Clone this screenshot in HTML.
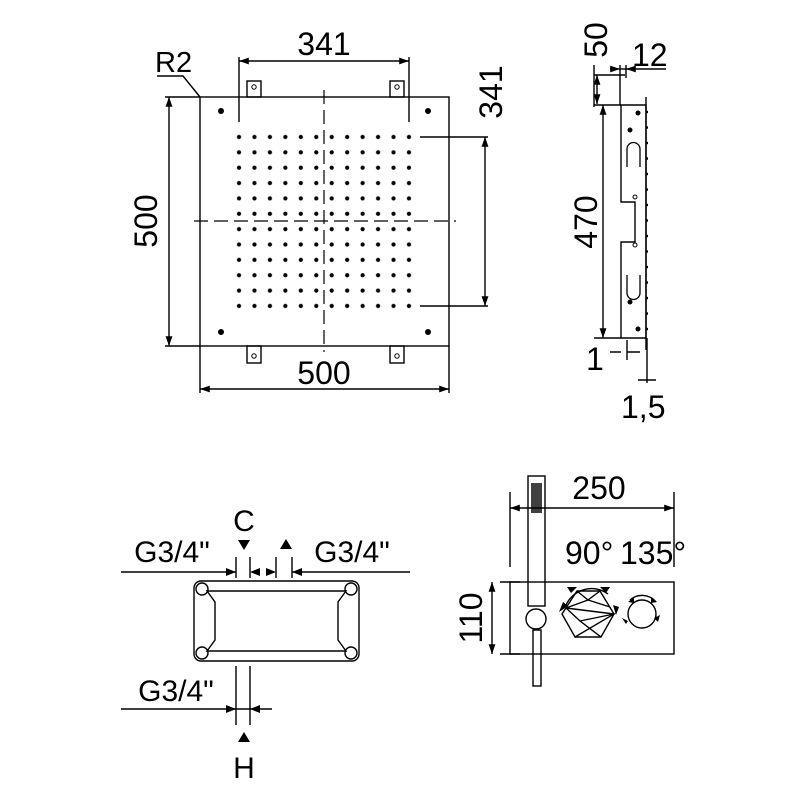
<!DOCTYPE html>
<html><head><meta charset="utf-8"><style>
html,body{margin:0;padding:0;background:#fff}
svg{display:block}
text{font-family:"Liberation Sans","DejaVu Sans",sans-serif;fill:#000}
</style></head><body>
<svg width="800" height="800" viewBox="0 0 800 800" xmlns="http://www.w3.org/2000/svg">
<defs>
<marker id="a" viewBox="0 0 10 10" refX="10" refY="5" markerWidth="7" markerHeight="7" orient="auto-start-reverse"><path d="M0,1.5 L10,5 L0,8.5z" fill="#000"/></marker>
<pattern id="dots" x="231.3" y="129.3" width="15.45" height="15.36" patternUnits="userSpaceOnUse"><circle cx="7.72" cy="7.68" r="2.1" fill="#000"/></pattern>
<pattern id="sd" x="644" y="105" width="4" height="15.5" patternUnits="userSpaceOnUse"><circle cx="3" cy="7" r="1.3" fill="#000"/></pattern>
</defs>
<g stroke="#000" stroke-width="1.4" fill="none">
<!-- top view -->
<rect x="200" y="97" width="249" height="249"/>
<rect x="247" y="81" width="14" height="16"/><rect x="390" y="81" width="14" height="16"/>
<rect x="247" y="346" width="14" height="17"/><rect x="390" y="346" width="14" height="17"/>
<circle cx="254" cy="87" r="2.2" stroke-width="1"/><circle cx="397" cy="87" r="2.2" stroke-width="1"/>
<circle cx="254" cy="356" r="2.2" stroke-width="1"/><circle cx="397" cy="356" r="2.2" stroke-width="1"/>
<path d="M324,90 V352 M194,221 H456" stroke-dasharray="14,6" stroke-width="1.2"/>
<path d="M239,57 V122 M409,57 V122"/>
<path d="M239,61 H409" marker-start="url(#a)" marker-end="url(#a)"/>
<path d="M165,97 H200 M165,346 H200"/>
<path d="M169,97 V346" marker-start="url(#a)" marker-end="url(#a)"/>
<path d="M200,346 V393 M449,346 V393"/>
<path d="M200,389 H449" marker-start="url(#a)" marker-end="url(#a)"/>
<path d="M420,137 H488 M420,306 H488"/>
<path d="M485,137 V306" marker-start="url(#a)" marker-end="url(#a)"/>
<path d="M157,76 H183 L200,97"/>
<!-- side view -->
<path d="M621,105 H646 V338 H621 V242 H635 V202 H621 Z"/>
<path d="M646,97 V350"/>
<path d="M627,167 v-18 a6.5,6.5 0 0 1 13,0 v18 M627,275 v18 a6.5,6.5 0 0 0 13,0 v-18" stroke-width="1.3"/>
<circle cx="635" cy="197" r="2" stroke-width="1"/><circle cx="635" cy="245" r="2" stroke-width="1"/>
<path d="M594,105 H621 M594,338 H621"/>
<path d="M603,105 V338" marker-start="url(#a)" marker-end="url(#a)"/>
<path d="M594,75 H625 M594,107 V65"/>
<path d="M597,75 V104" marker-start="url(#a)" marker-end="url(#a)"/>
<path d="M620,65 V105 M626,65 V78"/>
<path d="M610,69 H620" marker-end="url(#a)"/>
<path d="M666,69 H626" marker-end="url(#a)"/>
<path d="M620,69 H626"/>
<path d="M610,352 H621 M627,352 H640" />
<path d="M627,340 V360"/>
<path d="M647,338 V383 M638,380 H656"/>
<!-- bottom left -->
<path d="M121,572 H236 M292,572 H410"/>
<path d="M236,557 V578 M250,557 V578 M276,557 V578 M292,557 V578"/>
<rect x="194" y="581" width="165" height="80" rx="7"/>
<path d="M207,591 H346 L338,602 V640 L346,651 H207 L215,640 V602 Z"/>
<circle cx="202" cy="589" r="6"/><circle cx="351" cy="589" r="6"/><circle cx="202" cy="653" r="6"/><circle cx="351" cy="653" r="6"/>
<path d="M121,709 H272 M236,666 V725 M250,666 V725"/>
<!-- bottom right -->
<rect x="510" y="582" width="164" height="72"/>
<rect x="528" y="476" width="17" height="130"/>
<rect x="533" y="630" width="8" height="56"/>
<circle cx="536" cy="619" r="10" fill="#fff"/>
<path d="M510,492 V567 M674,492 V567"/>
<path d="M510,508 H674" marker-start="url(#a)" marker-end="url(#a)"/>
<path d="M500,582 H520 M500,654 H520"/>
<path d="M492,582 V654" marker-start="url(#a)" marker-end="url(#a)"/>
<path d="M562,614 L577,591 H600 L614,614 L601,637 H575 Z"/>
<path d="M577,591 L588,600 L600,591 M588,600 L566,608 L614,614 L575,637 M566,608 L580,621 L601,637 M580,621 L614,614 M588,600 L610,607"/>
<path d="M566,605 A28,28 0 0 1 608,594" />
<circle cx="642" cy="614" r="14"/>
<path d="M630,600 A18,18 0 0 1 656,602"/>
</g>
<rect x="231.3" y="129.3" width="185.4" height="184.3" fill="url(#dots)"/>
<rect x="644" y="105" width="5" height="233" fill="url(#sd)"/>
<g fill="#000">
<circle cx="221" cy="111" r="3"/><circle cx="428" cy="111" r="3"/><circle cx="221" cy="332" r="3"/><circle cx="428" cy="332" r="3"/>
<circle cx="638" cy="113" r="2.5"/><circle cx="630" cy="130" r="2.5"/><circle cx="630" cy="302" r="2.5"/><circle cx="638" cy="329" r="2.5"/>
<rect x="531" y="483" width="11" height="30" opacity="0.75"/>
<path d="M236,572 l-10,-4 v8z M250,572 l10,-4 v8z M276,572 l-10,-4 v8z M292,572 l10,-4 v8z"/>
<path d="M236,709 l-10,-4 v8z M250,709 l10,-4 v8z"/>
<path d="M238,540 h12 l-6,10z M280,549 h12 l-6,-10z M238,742 h12 l-6,-10z"/>
<path d="M577,587 h-10 l4,6z M600,587 h10 l-4,6z M559,612 l4,-10 l5,4z M613,605 l3,10 l3,-8z M628,602 l6,-5 v6z M657,602 l-6,-5 v6z M628,621 l-6,-3 l4,6z M654,618 l6,-3 l-2,7z"/>
</g>
<g font-size="32">
<text x="324" y="55" text-anchor="middle">341</text>
<text x="155" y="72" font-size="29">R2</text>
<text x="324" y="384" text-anchor="middle">500</text>
<text transform="translate(157,221) rotate(-90)" text-anchor="middle">500</text>
<text transform="translate(502,92) rotate(-90)" text-anchor="middle">341</text>
<text transform="translate(597,222) rotate(-90)" text-anchor="middle">470</text>
<text transform="translate(607,40) rotate(-90)" text-anchor="middle">50</text>
<text x="632" y="66">12</text>
<text x="586" y="370">1</text>
<text x="621" y="418">1,5</text>
<text x="172" y="562" text-anchor="middle" font-size="30">G3/4"</text>
<text x="352" y="562" text-anchor="middle" font-size="30">G3/4"</text>
<text x="244" y="531" text-anchor="middle" font-size="30">C</text>
<text x="176" y="701" text-anchor="middle" font-size="30">G3/4"</text>
<text x="244" y="778" text-anchor="middle" font-size="30">H</text>
<text x="599" y="499" text-anchor="middle">250</text>
<text x="565" y="564">90°</text>
<text x="620" y="564">135°</text>
<text transform="translate(482,618) rotate(-90)" text-anchor="middle">110</text>
</g>
</svg>
</body></html>
